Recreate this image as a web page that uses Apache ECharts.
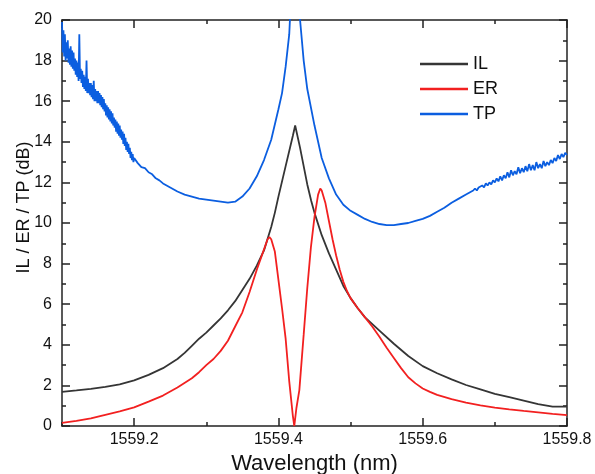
<!DOCTYPE html>
<html><head><meta charset="utf-8">
<script src="https://cdn.jsdelivr.net/npm/echarts@6/dist/echarts.min.js"></script>
<style>html,body{margin:0;padding:0;background:#fff}#c{width:595px;height:474px}</style>
</head><body><div id="c"></div>
<script>
// ---- data (wavelength in nm, values in dB) ----
const ilWl  = [1559.10,1559.12,1559.14,1559.16,1559.18,1559.20,1559.22,1559.24,1559.26,1559.27,1559.28,1559.29,1559.30,1559.31,1559.32,1559.33,1559.34,1559.35,1559.36,1559.37,1559.38,1559.39,1559.395,1559.40,1559.41,1559.42,1559.4232,1559.43,1559.44,1559.4454,1559.45,1559.46,1559.47,1559.48,1559.49,1559.50,1559.51,1559.52,1559.54,1559.56,1559.58,1559.60,1559.62,1559.64,1559.66,1559.68,1559.70,1559.72,1559.74,1559.76,1559.78,1559.80];
const ilVal = [1.68,1.75,1.83,1.93,2.05,2.25,2.52,2.85,3.3,3.6,3.95,4.3,4.6,4.95,5.3,5.7,6.15,6.7,7.25,7.9,8.65,9.8,10.5,11.3,12.8,14.3,14.8,13.7,11.9,11.1,10.5,9.4,8.5,7.7,6.9,6.3,5.8,5.35,4.7,4.05,3.45,2.95,2.6,2.3,2.02,1.8,1.58,1.42,1.25,1.08,0.95,0.95];

const erWl  = [1559.10,1559.12,1559.14,1559.16,1559.18,1559.20,1559.22,1559.24,1559.26,1559.28,1559.29,1559.30,1559.31,1559.32,1559.33,1559.34,1559.35,1559.36,1559.37,1559.38,1559.385,1559.3875,1559.39,1559.395,1559.40,1559.405,1559.41,1559.415,1559.42,1559.422,1559.425,1559.429,1559.435,1559.44,1559.445,1559.45,1559.455,1559.458,1559.46,1559.465,1559.47,1559.475,1559.48,1559.485,1559.49,1559.495,1559.50,1559.51,1559.52,1559.53,1559.54,1559.55,1559.56,1559.57,1559.58,1559.59,1559.60,1559.61,1559.62,1559.64,1559.66,1559.68,1559.70,1559.72,1559.74,1559.76,1559.78,1559.80];
const erVal = [0.15,0.25,0.38,0.55,0.72,0.92,1.2,1.5,1.9,2.35,2.65,3.0,3.3,3.7,4.2,4.9,5.6,6.6,7.7,8.7,9.2,9.3,9.2,8.6,7.2,5.8,4.3,2.2,0.5,0.0,0.9,1.77,4.5,6.8,8.8,10.3,11.4,11.7,11.6,11.0,10.1,9.2,8.4,7.7,7.1,6.65,6.3,5.8,5.35,4.9,4.4,3.85,3.35,2.85,2.4,2.1,1.85,1.68,1.53,1.32,1.15,1.02,0.91,0.82,0.74,0.67,0.6,0.54];

// TP: noisy start (sampled every 0.001 nm from 1559.100), smooth middle, noisy end (every 0.0025 nm from 1559.67)
const tpNoisyStartWl0 = 1559.100, tpNoisyStartStep = 0.001;
const tpNoisyStartVal = [19.9,18.4,19.5,18.2,19.3,18.0,18.9,18.1,19.0,17.9,
  18.6,17.8,18.7,17.7,18.5,17.6,18.4,17.5,18.1,17.3,
  18.0,17.2,17.9,17.0,19.3,17.1,17.6,16.9,17.5,16.7,
  17.3,16.6,17.2,16.5,18.0,16.4,17.1,16.4,16.9,16.3,
  16.9,16.2,16.8,16.1,17.0,16.0,16.6,16.0,16.5,15.9,
  16.5,15.9,16.4,15.8,16.3,15.7,16.2,15.6,16.1,15.5,
  15.9,15.3,15.8,15.2,15.7,15.1,15.6,15.0,15.5,14.9,
  15.4,14.8,15.2,14.7,15.1,14.5,15.0,14.4,14.9,14.3,
  14.8,14.2,14.6,14.1,14.5,13.9,14.4,13.8,14.2,13.6,
  14.0,13.5,13.9,13.4,13.7,13.2,13.5,13.1,13.4,13.0,
  13.2];
const tpMidWl  = [1559.205,1559.21,1559.215,1559.22,1559.225,1559.23,1559.235,1559.24,1559.25,1559.26,1559.27,1559.28,1559.29,1559.30,1559.31,1559.32,1559.33,1559.34,1559.35,1559.36,1559.37,1559.38,1559.39,1559.40,1559.405,1559.41,1559.415,1559.42,1559.425,1559.43,1559.435,1559.44,1559.45,1559.46,1559.47,1559.48,1559.49,1559.50,1559.51,1559.52,1559.53,1559.54,1559.55,1559.56,1559.57,1559.58,1559.59,1559.60,1559.61,1559.62,1559.63,1559.64,1559.65,1559.66];
const tpMidVal = [12.95,12.75,12.7,12.5,12.4,12.2,12.1,11.95,11.75,11.55,11.4,11.3,11.2,11.15,11.1,11.05,11.0,11.05,11.3,11.7,12.3,13.1,14.1,15.6,16.4,17.7,19.3,23.0,23.0,20.0,18.0,16.6,14.8,13.2,12.2,11.4,10.9,10.6,10.4,10.2,10.05,9.95,9.9,9.9,9.95,10.0,10.1,10.2,10.35,10.55,10.75,11.0,11.2,11.4];
const tpNoisyEndWl0 = 1559.67, tpNoisyEndStep = 0.0025;
const tpNoisyEndVal = [11.6,11.7,11.6,11.75,11.7,11.85,11.75,11.95,11.85,12.0,
  11.9,12.1,12.0,12.2,12.05,12.3,12.1,12.35,12.2,12.5,
  12.25,12.6,12.35,12.55,12.4,12.75,12.45,12.7,12.5,12.8,
  12.55,12.9,12.6,12.85,12.6,13.0,12.7,12.9,12.7,13.05,
  12.8,13.0,12.85,13.1,12.95,13.2,13.05,13.35,13.15,13.4,
  13.25,13.45,13.35];

const seriesNames  = ['IL','ER','TP'];
const seriesColors = ['#353535','#f22020','#0b5ee0'];
const xTickLabels = ['1559.2','1559.4','1559.6','1559.8'];
const yTickLabels = ['0','2','4','6','8','10','12','14','16','18','20'];

const X_MIN = 1559.1, X_MAX = 1559.8, Y_MIN = 0, Y_MAX = 20;
const FONT = 'Liberation Sans, Arial, sans-serif';
const AX = {color:'#222', width:1.5};

function pairs(xs, ys){ return xs.map((x,i)=>[x, ys[i]]); }
function sampled(x0, step, ys){ return ys.map((y,i)=>[+(x0 + i*step).toFixed(4), y]); }

function xAxisDef(pos, major, withLabels){
  const a = {
    type:'value', position:pos, min:X_MIN, max:X_MAX,
    axisLine:{show:major, onZero:false, lineStyle:AX},
    axisTick:{show:true, inside:true, length: major?8:4, lineStyle:AX},
    axisLabel:{show:false},
    splitLine:{show:false}
  };
  if (major) a.splitNumber = 4; else a.interval = 0.1;
  if (withLabels){
    a.axisLabel = {show:true, showMinLabel:false, margin:6, color:'#111', fontFamily:FONT, fontSize:16,
      formatter: v => { const s = (+v).toFixed(1); return xTickLabels.includes(s) ? s : ''; }};
    a.name = 'Wavelength (nm)';
    a.nameLocation = 'middle';
    a.nameGap = 22;
    a.nameTextStyle = {color:'#111', fontFamily:FONT, fontSize:22};
  }
  return a;
}
function yAxisDef(pos, withLabels){
  const a = {
    type:'value', position:pos, min:Y_MIN, max:Y_MAX, interval:2,
    axisLine:{show:true, onZero:false, lineStyle:AX},
    axisTick:{show:true, inside:true, length:8, lineStyle:AX},
    minorTick:{show:true, splitNumber:2, length:4, lineStyle:AX},
    axisLabel:{show:false},
    splitLine:{show:false}, minorSplitLine:{show:false}
  };
  if (withLabels){
    a.axisLabel = {show:true, margin:10, color:'#111', fontFamily:FONT, fontSize:16,
      formatter: v => { const s = String(Math.round(v)); return yTickLabels.includes(s) ? s : ''; }};
    a.name = 'IL / ER / TP (dB)';
    a.nameLocation = 'middle';
    a.nameGap = 29;
    a.nameMoveOverlap = false;
    a.nameTextStyle = {color:'#111', fontFamily:FONT, fontSize:18, padding:[0,0,0,31]};
  }
  return a;
}

const data = [
  pairs(ilWl, ilVal),
  pairs(erWl, erVal),
  sampled(tpNoisyStartWl0, tpNoisyStartStep, tpNoisyStartVal)
    .concat(pairs(tpMidWl, tpMidVal))
    .concat(sampled(tpNoisyEndWl0, tpNoisyEndStep, tpNoisyEndVal))
];

const chart = echarts.init(document.getElementById('c'), null, {renderer:'canvas'});
chart.setOption({
  animation:false,
  backgroundColor:'#fff',
  grid:{left:62, right:28, top:20, bottom:48, containLabel:false, outerBoundsMode:'none'},
  xAxis:[xAxisDef('bottom',true,true), xAxisDef('bottom',false,false), xAxisDef('top',true,false), xAxisDef('top',false,false)],
  yAxis:[yAxisDef('left',true), yAxisDef('right',false)],
  legend:{
    orient:'vertical', left:420, top:54, padding:0, itemWidth:48, itemHeight:2.5, itemGap:5,
    icon:'rect', data:seriesNames,
    textStyle:{color:'#111', fontFamily:FONT, fontSize:18, lineHeight:20, padding:[0,0,0,0]}
  },
  series: seriesNames.map((n,i)=>({
    name:n, type:'line', xAxisIndex:0, yAxisIndex:0, data:data[i],
    showSymbol:false, symbol:'none', clip:true,
    lineStyle:{color:seriesColors[i], width:1.8}, itemStyle:{color:seriesColors[i]},
    z: i===2 ? 3 : 2
  }))
});
</script></body></html>
